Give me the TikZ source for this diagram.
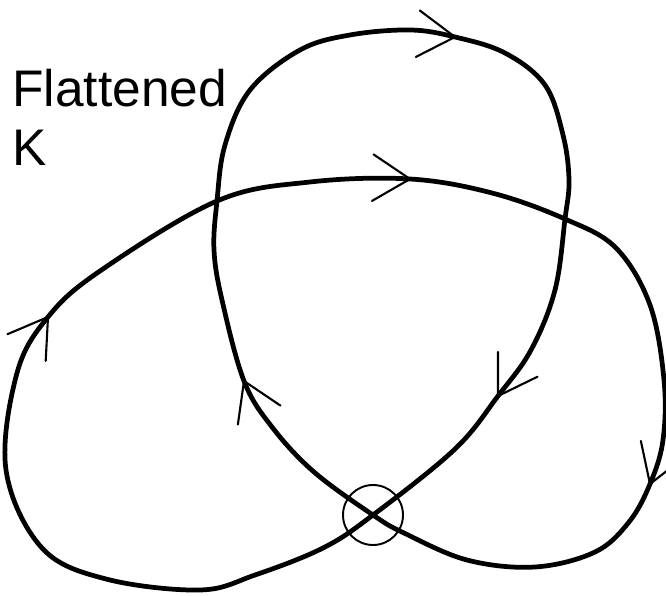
\documentclass[tikz,border=0pt]{standalone}
\usepackage{fontspec}
\setmainfont{Liberation Sans}
\usetikzlibrary{positioning}

\begin{document}
\begin{tikzpicture}[
                x=0.02cm, y=-0.02cm,
                knot/.style={line width=2.7pt, line join=round},
                ring/.style={draw, line width=1.1pt},
                arrowline/.style={line width=1.2pt, line cap=round},
                knotarrow/.pic={\draw[arrowline] (148:0.88cm) -- (0,0) -- (212:0.88cm);},
                titletext/.style={anchor=north west, inner sep=0pt, align=left,
                    font=\fontsize{29.3}{33.6}\selectfont}
            ]
            \useasboundingbox (0,0) rectangle (666,597);

            % Title
            \node[titletext] (title) at (12,69) {Flattened\\K};

            % Crossings and arrow positions
            \coordinate (xleft) at (217,201);
            \coordinate (xright) at (565,219);
            \coordinate (xmid) at (373,515);
            \coordinate (ar1) at (455,37);
            \coordinate (ar2) at (498,396);
            \coordinate (ar3) at (48,317);
            \coordinate (ar4) at (410,179);
            \coordinate (ar5) at (650,484);
            \coordinate (ar6) at (244,381);

            % The flattened knot
            \draw[knot] plot[smooth cycle, tension=0.6] coordinates {
                (410,30) (ar1) (505,53) (545,85) (563,135) (569,180) (xright)
                (555,290) (531,350) (ar2) (455,449) (xmid)
                (323,548) (255,575) (200,590) (106,579) (42,548) (6,470)
                (17,373) (ar3) (100,271) (xleft)
                (310,182) (ar4) (492,193) (xright)
                (616,248) (650,305) (664,380) (663,440) (ar5)
                (629,522) (595,552) (535,567) (467,560) (404,533) (xmid)
                (314,472) (272,427) (ar6) (222,300) (214,250) (xleft)
                (225,145) (250,90) (300,50) (350,35)
            };

            % Marked crossing
            \draw[ring] (xmid) circle[radius=0.6cm];

            % Orientation arrows
            \pic[rotate=-5] at (ar1) {knotarrow};
            \pic[rotate=-122] at (ar2) {knotarrow};
            \pic[rotate=55] at (ar3) {knotarrow};
            \pic[rotate=-2] at (ar4) {knotarrow};
            \pic[rotate=-110] at (ar5) {knotarrow};
            \pic[rotate=114] at (ar6) {knotarrow};
        \end{tikzpicture}
\end{document}
